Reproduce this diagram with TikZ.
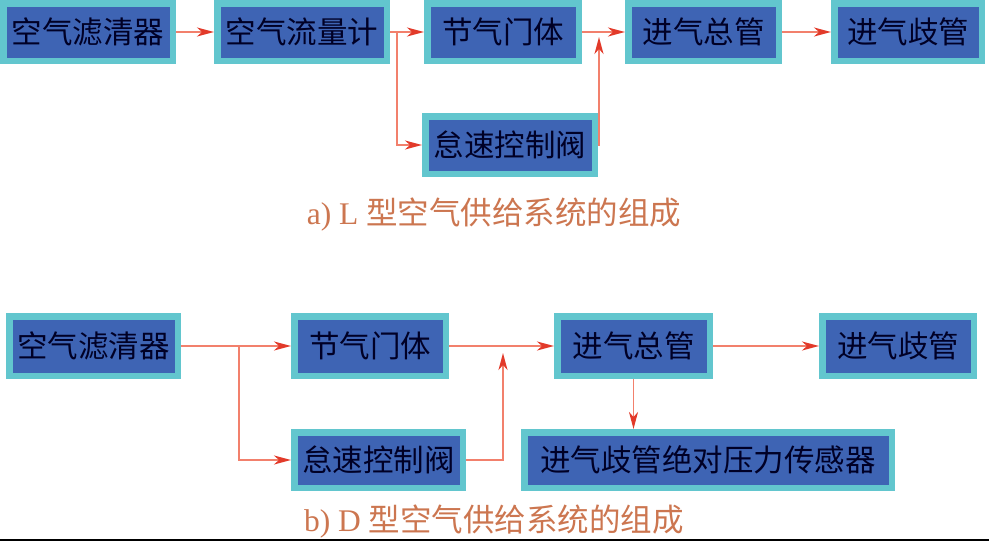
\documentclass[tikz,border=0pt]{standalone}
\usepackage{fontspec}
\setmainfont{Liberation Serif}
\newfontfamily\cjk{Noto Sans CJK SC}
\usetikzlibrary{arrows.meta,positioning}
\definecolor{boxblue}{RGB}{62,100,180}
\definecolor{boxcyan}{RGB}{98,198,206}
\definecolor{flowred}{RGB}{242,128,108}
\definecolor{headred}{RGB}{226,58,42}
\definecolor{captionbrown}{RGB}{204,118,80}
\tikzset{
    %Define standard arrow tip
    >={Stealth[length=17pt,width=9pt,inset=5pt,color=headred]},
    %Define style for boxes
    part/.style={
           rectangle,
           draw=boxcyan, line width=6.5pt,
           fill=boxblue,
           minimum height=57.5pt,
           inner sep=0pt,
           font=\cjk\fontsize{30.5}{30.5}\selectfont,
           text=black!85!blue,
           text centered},
    % Define arrow style
    flow/.style={
           ->,
           draw=flowred,
           line width=1.8pt},
    caption/.style={
           font=\fontsize{31.5}{31.5}\selectfont,
           text=captionbrown}
}
\begin{document}
\begin{tikzpicture}[x=1pt,y=-1pt]
\useasboundingbox (0,0) rectangle (989,541);
 %L type
\node[part, minimum width=169.5pt] (filterA) at (88,32) {空气滤清器};
\node[part, minimum width=169.5pt, right=38pt of filterA] (meterA) {空气流量计};
\node[part, minimum width=151.5pt, right=34pt of meterA] (throttleA) {节气门体};
\node[part, minimum width=150.5pt, right=43pt of throttleA] (manifoldA) {进气总管};
\node[part, minimum width=147.5pt, right=49pt of manifoldA] (runnerA) {进气歧管};
\node[part, minimum width=169.5pt, below=49pt of throttleA, xshift=7pt] (idleA) {怠速控制阀};
\coordinate (splitA) at ([xshift=7pt]meterA.east);
\coordinate (mergeA) at ([xshift=17pt]throttleA.east);
\draw[flow] (filterA) -- (meterA);
\draw[flow] (meterA) -- (throttleA);
\draw[flow] (splitA) |- (idleA.west);
\draw[flow] (throttleA) -- (manifoldA);
\draw[flow] (idleA.east) -| ([yshift=-5pt]mergeA);
\draw[flow] (manifoldA) -- (runnerA);
\node[caption] (captionA) at (494,215) {a) L {\cjk 型空气供给系统的组成}};
 %D type
\node[part, minimum width=168.5pt, minimum height=59.5pt] (filterB) at (93.5,346) {空气滤清器};
\node[part, minimum width=151.5pt, minimum height=59.5pt, right=110pt of filterB] (throttleB) {节气门体};
\node[part, minimum width=152.5pt, minimum height=59.5pt, right=105pt of throttleB] (manifoldB) {进气总管};
\node[part, minimum width=151.5pt, minimum height=59.5pt, right=106pt of manifoldB] (runnerB) {进气歧管};
\node[part, minimum width=168.5pt, minimum height=55.5pt, below=50pt of throttleB.south west, anchor=north west] (idleB) {怠速控制阀};
\node[part, minimum width=367.5pt, minimum height=55.5pt, below=50pt of manifoldB, xshift=74.5pt] (sensorB) {进气歧管绝对压力传感器};
\coordinate (splitB) at ([xshift=58pt]filterB.east);
\coordinate (mergeB) at ([xshift=54pt]throttleB.east);
\draw[flow] (filterB) -- (throttleB);
\draw[flow] (splitB) |- (idleB.west);
\draw[flow] (throttleB) -- (manifoldB);
\draw[flow] (idleB.east) -| ([yshift=-7pt]mergeB);
\draw[flow] (manifoldB) -- (runnerB);
\draw[flow] (manifoldB) -- (manifoldB |- sensorB.north);
\node[caption] (captionB) at (494,522) {b) D {\cjk 型空气供给系统的组成}};
\draw[line width=2pt] (0,540) -- (989,540);
\end{tikzpicture}
\end{document}
